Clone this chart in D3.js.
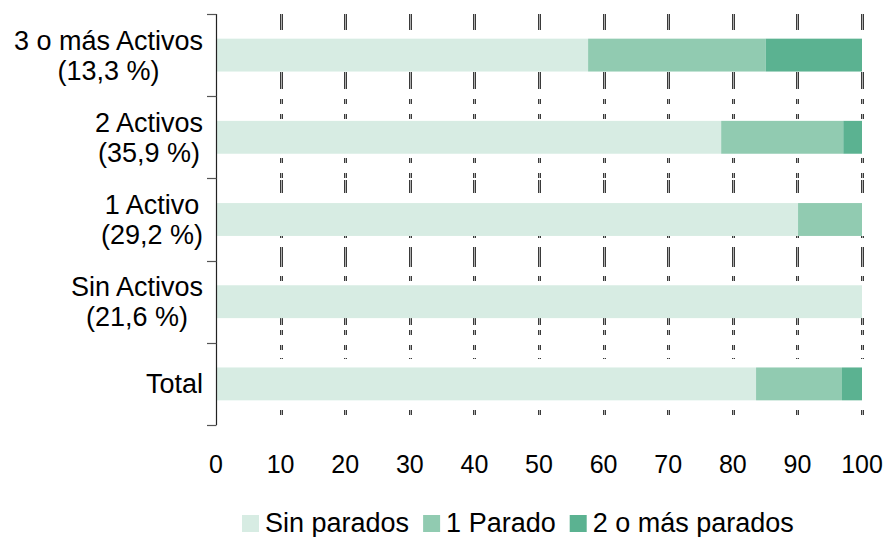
<!DOCTYPE html>
<html>
<head>
<meta charset="utf-8">
<script src="https://cdn.jsdelivr.net/npm/d3@7"></script>
<style>
  body { margin: 0; background: #fff; }
  text { font-family: "Liberation Sans", Arial, sans-serif; fill: #000; }
</style>
</head>
<body>
<div id="chart"></div>
<script>
// Data
let categories = [
    ["3 o más Activos", "(13,3 %)"],
    ["2 Activos", "(35,9 %)"],
    ["1 Activo", "(29,2 %)"],
    ["Sin Activos", "(21,6 %)"],
    ["Total"]
];
let seriesNames = ["Sin parados", "1 Parado", "2 o más parados"];
let sinParados = [57.6, 78.2, 90.1, 100, 83.6];
let unParado = [27.5, 18.9, 9.9, 0, 13.3];
let dosOMas = [14.9, 2.9, 0, 0, 3.1];
let xTicks = [0, 10, 20, 30, 40, 50, 60, 70, 80, 90, 100];

let colors = ["#d7ece3", "#91cbb1", "#5bb291"];

// Layout
let svgWidth = 896, svgHeight = 537;
let margin = { top: 14, right: 34, bottom: 112, left: 216 };
let chartWidth = svgWidth - margin.left - margin.right;
let chartHeight = svgHeight - margin.top - margin.bottom;

let svg = d3.select('#chart')
            .append('svg')
            .attr('width', svgWidth)
            .attr('height', svgHeight);

let chartGrp = svg.append('g')
            .attr('transform', `translate(${margin.left}, ${margin.top})`);

// Build rows for the stack
let rows = categories.map((c, i) => ({
    key: i,
    "Sin parados": sinParados[i],
    "1 Parado": unParado[i],
    "2 o más parados": dosOMas[i]
}));

let xScale = d3.scaleLinear()
                .domain([0, 100])
                .range([0, chartWidth]);
let yScale = d3.scaleBand()
                .domain(rows.map(d => d.key))
                .range([0, chartHeight])
                .paddingInner(0.6)
                .paddingOuter(0.3);
let yBand = d3.scaleBand()
                .domain(rows.map(d => d.key))
                .range([0, chartHeight]);

// Gridlines (odd dashed look of the original)
let dashPat = "16,42,17,10,5,10,5,39,5,10,5,2,13,43,2,9,20,9,5,37,7,5,5,10,5,8,1,51,5,30";
let gridGrp = chartGrp.append('g');
gridGrp.selectAll('line.gOut')
    .data(xTicks.filter(t => t > 0))
    .enter()
    .append('line')
    .attr('class', 'gOut')
    .attr('x1', d => Math.round(xScale(d)) + 0.5)
    .attr('x2', d => Math.round(xScale(d)) + 0.5)
    .attr('y1', 0)
    .attr('y2', chartHeight)
    .attr('stroke', '#3a3a3a')
    .attr('stroke-width', 3)
    .attr('stroke-dasharray', dashPat);
gridGrp.selectAll('line.gIn')
    .data(xTicks.filter(t => t > 0))
    .enter()
    .append('line')
    .attr('class', 'gIn')
    .attr('x1', d => Math.round(xScale(d)) + 0.5)
    .attr('x2', d => Math.round(xScale(d)) + 0.5)
    .attr('y1', 0)
    .attr('y2', chartHeight)
    .attr('stroke', '#b0b0b0')
    .attr('stroke-width', 1)
    .attr('stroke-dasharray', dashPat);

// Stacked bars
let stacked = d3.stack().keys(seriesNames)(rows);

chartGrp.selectAll('g.series')
    .data(stacked)
    .enter()
    .append('g')
    .attr('class', 'series')
    .attr('fill', (d, i) => colors[i])
    .selectAll('rect')
    .data(d => d)
    .enter()
    .append('rect')
    .attr('x', d => xScale(d[0]))
    .attr('y', d => yScale(d.data.key))
    .attr('width', d => xScale(d[1]) - xScale(d[0]))
    .attr('height', yScale.bandwidth());

// Y axis line + ticks at band edges
let yAxisGrp = chartGrp.append('g');
yAxisGrp.append('line')
    .attr('x1', 0.5).attr('x2', 0.5)
    .attr('y1', 0).attr('y2', chartHeight)
    .attr('stroke', '#222')
    .attr('stroke-width', 1.2);
let edges = rows.map(d => yBand(d.key)).concat([chartHeight]);
yAxisGrp.selectAll('line.tick')
    .data(edges)
    .enter()
    .append('line')
    .attr('class', 'tick')
    .attr('x1', -9).attr('x2', 0.5)
    .attr('y1', d => Math.round(d) + 0.5)
    .attr('y2', d => Math.round(d) + 0.5)
    .attr('stroke', '#555')
    .attr('stroke-width', 1.2);

// Category labels: lines centred on each other, block right-aligned
let lineH = 30;
categories.forEach((lines, i) => {
    let cy = yBand(i) + yBand.bandwidth() / 2;
    let g = chartGrp.append('g');
    let texts = lines.map((s, j) => g.append('text')
        .attr('font-size', 27)
        .attr('text-anchor', 'middle')
        .attr('y', cy + 9.5 + (j - (lines.length - 1) / 2) * lineH)
        .text(s));
    let maxW = d3.max(texts, t => t.node().getComputedTextLength());
    texts.forEach(t => t.attr('x', -13 - maxW / 2));
});

// X tick labels (no axis line)
chartGrp.append('g')
    .selectAll('text')
    .data(xTicks)
    .enter()
    .append('text')
    .attr('x', d => xScale(d))
    .attr('y', chartHeight + 47.5)
    .attr('text-anchor', 'middle')
    .attr('font-size', 25)
    .text(d => d);

// Legend
let legend = svg.append('g');
let lx = 242;
seriesNames.forEach((name, i) => {
    legend.append('rect')
        .attr('x', lx)
        .attr('y', 515)
        .attr('width', 17)
        .attr('height', 17)
        .attr('fill', colors[i]);
    let t = legend.append('text')
        .attr('x', lx + 23)
        .attr('y', 532)
        .attr('font-size', 27)
        .text(name);
    lx += 23 + t.node().getComputedTextLength() + 14;
});
</script>
</body>
</html>
